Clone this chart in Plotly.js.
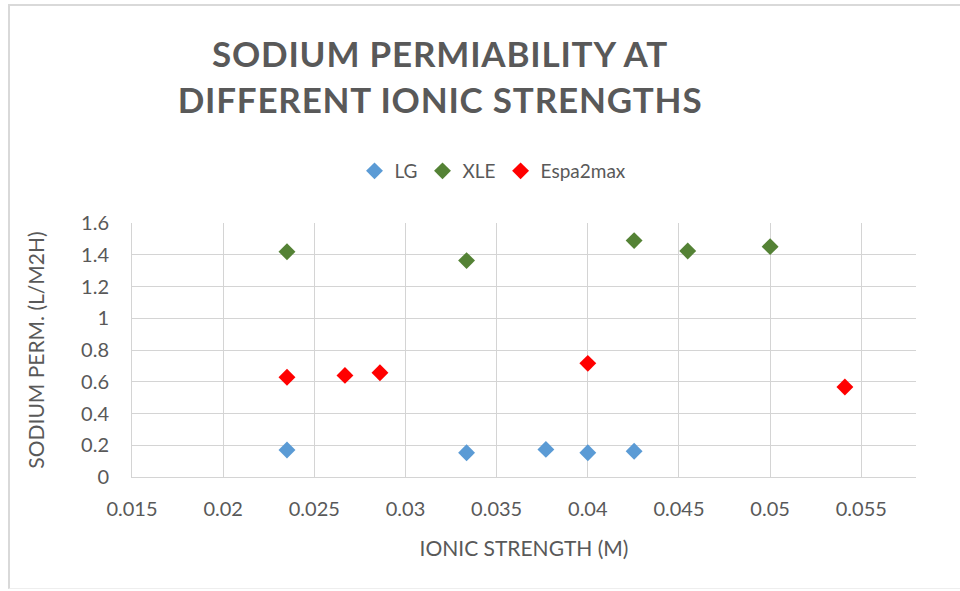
<!DOCTYPE html>
<html>
<head>
<meta charset="utf-8">
<script src="https://cdn.plot.ly/plotly-3.0.1.min.js"></script>
<style>
html,body{margin:0;padding:0;background:#fff;}
#wrap{position:relative;width:960px;height:591px;}
#chart{width:960px;height:591px;}
#frame{position:absolute;left:8px;top:4px;width:960px;height:585px;border-left:2px solid #d9d9d9;border-top:2px solid #d9d9d9;border-bottom:1px solid #eeeeee;pointer-events:none;box-sizing:border-box;}
.gtitle{letter-spacing:0.8px;}
</style>
</head>
<body>
<div id="wrap"><div id="chart"></div><div id="frame"></div></div>
<script>
const lgX = [0.0235, 0.03335, 0.0377, 0.0400, 0.04254];
const lgY = [0.170, 0.153, 0.174, 0.153, 0.162];
const xleX = [0.0235, 0.03335, 0.04254, 0.04548, 0.0500];
const xleY = [1.419, 1.363, 1.489, 1.424, 1.451];
const espX = [0.0235, 0.02668, 0.0286, 0.0400, 0.0541];
const espY = [0.628, 0.640, 0.657, 0.716, 0.567];
const seriesNames = ['LG', 'XLE', 'Espa2max'];
const seriesColors = ['#5b9bd5', '#548235', '#ff0000'];

const font = 'Lato, "Noto Sans", sans-serif';
const txt = '#595959';
const grid = '#d4d4d4';

const xs = [lgX, xleX, espX], ys = [lgY, xleY, espY];
const traces = seriesNames.map((n, i) => ({
  type: 'scatter', mode: 'markers', name: n,
  x: xs[i], y: ys[i],
  marker: {symbol: 'diamond', size: 13, color: seriesColors[i]}
}));

const layout = {
  width: 960, height: 591,
  margin: {l: 132, r: 44, t: 223, b: 114},
  paper_bgcolor: 'rgba(0,0,0,0)', plot_bgcolor: '#fff',
  font: {family: font, color: txt, size: 19},
  title: {
    text: '<b>SODIUM PERMIABILITY AT<br>DIFFERENT IONIC STRENGTHS</b>',
    xref: 'container', x: 440/960, xanchor: 'center',
    yref: 'container', y: 1 - 67/591, yanchor: 'middle',
    font: {family: font, size: 35, color: txt}
  },
  showlegend: true,
  legend: {orientation: 'h', x: (493-132)/784, xanchor: 'center', y: (477-171)/254, yanchor: 'middle',
           font: {size: 19, color: txt}, tracegroupgap: 0},
  xaxis: {
    range: [0.015, 0.058], tick0: 0.015, dtick: 0.005,
    showgrid: true, gridcolor: grid, gridwidth: 1,
    showline: true, linecolor: grid, linewidth: 1,
    zeroline: false, ticks: 'outside', ticklen: 14, tickcolor: 'rgba(0,0,0,0)',
    tickfont: {size: 20, color: txt},
    title: {text: 'IONIC STRENGTH (M)', font: {size: 21, color: txt}, standoff: 22}
  },
  yaxis: {
    range: [0, 1.6], tick0: 0, dtick: 0.2,
    showgrid: true, gridcolor: grid, gridwidth: 1,
    showline: true, linecolor: grid, linewidth: 1,
    zeroline: false, ticks: 'outside', ticklen: 18, tickcolor: 'rgba(0,0,0,0)',
    tickfont: {size: 20, color: txt},
    title: {text: 'SODIUM PERM. (L/M2H)', font: {size: 21, color: txt}, standoff: 30}
  }
};
Plotly.newPlot('chart', traces, layout, {displayModeBar: false, staticPlot: true});
</script>
</body>
</html>
